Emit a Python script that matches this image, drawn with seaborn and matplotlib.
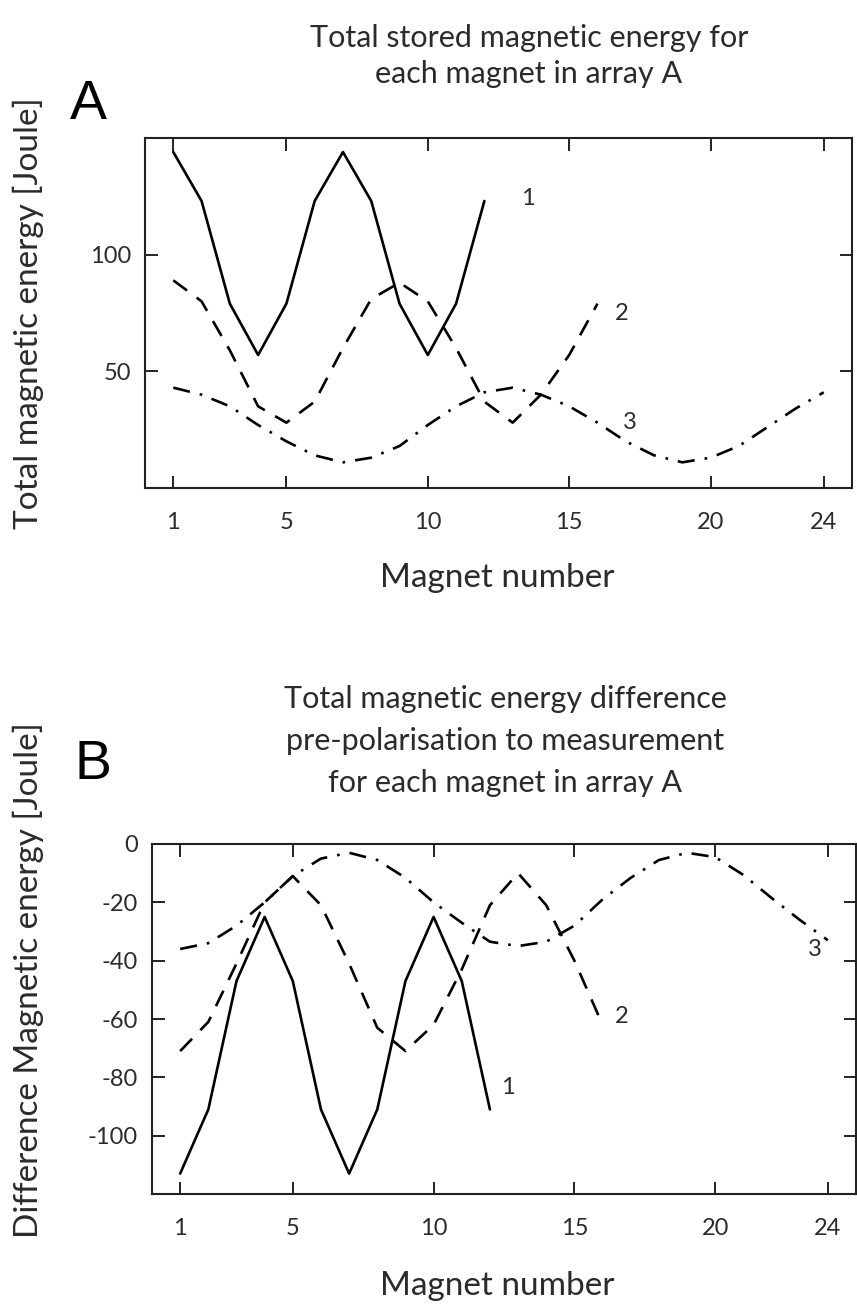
import matplotlib
matplotlib.use("Agg")
import matplotlib.pyplot as plt
import seaborn as sns
import numpy as np
import pandas as pd

# ---------------- data ----------------
magnets_1 = list(range(1, 13))
magnets_2 = list(range(1, 17))
magnets_3 = list(range(1, 25))

energy_1 = [144, 123, 79, 57, 79, 123, 144, 123, 79, 57, 79, 123]
energy_2 = [89, 80, 59, 35, 28, 37, 60, 81, 88, 80, 60, 37, 28, 40, 57, 79]
energy_3 = [43, 40, 35, 27, 20, 14, 11, 13, 18, 27, 35, 41,
            43, 40, 35, 28, 20, 14, 11, 13, 18, 26, 34, 41]

diff_1 = [-113, -91, -47, -25, -47, -91, -113, -91, -47, -25, -47, -91]
diff_2 = [-71, -61, -41, -20, -11, -21, -41, -63, -71, -62, -43, -21, -10, -21, -40, -62]
diff_3 = [-36, -34, -28, -20, -11, -5, -3, -5.5, -11.6, -20, -27, -33.5,
          -35, -33.5, -28, -19, -11.6, -5.5, -3, -4.5, -10.6, -18.5, -26, -33]

xticks = [1, 5, 10, 15, 20, 24]
yticks_a = [50, 100]
yticks_b = [0, -20, -40, -60, -80, -100]
series_names = ["1", "2", "3"]

title_a = "Total stored magnetic energy for\neach magnet in array A"
title_b = "Total magnetic energy difference\npre-polarisation to measurement\nfor each magnet in array A"
ylabel_a = "Total magnetic energy [Joule]"
ylabel_b = "Difference Magnetic energy [Joule]"
xlabel = "Magnet number"

# ---------------- style ----------------
sns.set_style("white")
plt.rcParams['font.family'] = ['Lato', 'DejaVu Sans']
plt.rcParams['axes.unicode_minus'] = False
TXT = "#2b2b2b"

fig = plt.figure(figsize=(8.57, 13.09), dpi=100)
ax_a = fig.add_axes([145/857, 1-488/1309, 707/857, 350/1309])
ax_b = fig.add_axes([152/857, 1-1194/1309, 704/857, 350/1309])

LW = 1.9
styles = ["-", (0, (6.5, 4.5)), (0, (6.5, 3.8, 1.0, 3.8))]


def draw(ax, xs_list, ys_list):
    for xs, ys, ls in zip(xs_list, ys_list, styles):
        df = pd.DataFrame({"x": xs, "y": ys})
        sns.lineplot(data=df, x="x", y="y", ax=ax, color="black",
                     linewidth=LW, linestyle=ls, legend=False)


draw(ax_a, [magnets_1, magnets_2, magnets_3], [energy_1, energy_2, energy_3])
draw(ax_b, [magnets_1, magnets_2, magnets_3], [diff_1, diff_2, diff_3])

ax_a.set_xlim(0, 25)
ax_a.set_ylim(0, 150)
ax_a.set_yticks(yticks_a)
ax_b.set_xlim(0, 25)
ax_b.set_ylim(-120, 0)
ax_b.set_yticks(yticks_b)

for ax in (ax_a, ax_b):
    ax.set_xticks(xticks)
    ax.tick_params(axis="both", direction="in", length=9, width=1.4,
                   top=True, right=True, bottom=True, left=True,
                   labelsize=17, labelcolor=TXT, color="#222222")
    ax.tick_params(axis="x", pad=17)
    ax.tick_params(axis="y", pad=10)
    for s in ax.spines.values():
        s.set_linewidth(1.5)
        s.set_color("#222222")
    ax.set_xlabel(xlabel, fontsize=24, color=TXT)

ax_a.set_ylabel(ylabel_a, fontsize=24, color=TXT)
ax_b.set_ylabel(ylabel_b, fontsize=24, color=TXT)
ax_a.yaxis.set_label_coords((44-145)/707, 0.5)
ax_b.yaxis.set_label_coords((44-152)/704, (1194-980)/350)
ax_a.xaxis.set_label_coords((497-145)/707, -(563-488)/350)
ax_b.xaxis.set_label_coords((497-152)/704, -(1271-1194)/350)

# series labels
lab_a = [(13.3, 124), (16.6, 75), (16.9, 28)]
lab_b = [(12.4, -83.6), (16.45, -59), (23.3, -36)]
for name, (x, y) in zip(series_names, lab_a):
    ax_a.text(x, y, name, fontsize=17, color=TXT, ha="left", va="center")
for name, (x, y) in zip(series_names, lab_b):
    ax_b.text(x, y, name, fontsize=17, color=TXT, ha="left", va="center")

# titles
fig.text(529/857, 1-56/1309, title_a, fontsize=22, color=TXT,
         ha="center", va="center", linespacing=1.35)
fig.text(505/857, 1-741/1309, title_b, fontsize=22, color=TXT,
         ha="center", va="center", linespacing=1.6)

# panel letters
fig.text(88/857, 1-105/1309, "A", fontsize=40, color="black",
         ha="center", va="center", family=["Liberation Sans", "DejaVu Sans"])
fig.text(93/857, 1-765/1309, "B", fontsize=40, color="black",
         ha="center", va="center", family=["Liberation Sans", "DejaVu Sans"])

fig.savefig("out.png", dpi=100)
